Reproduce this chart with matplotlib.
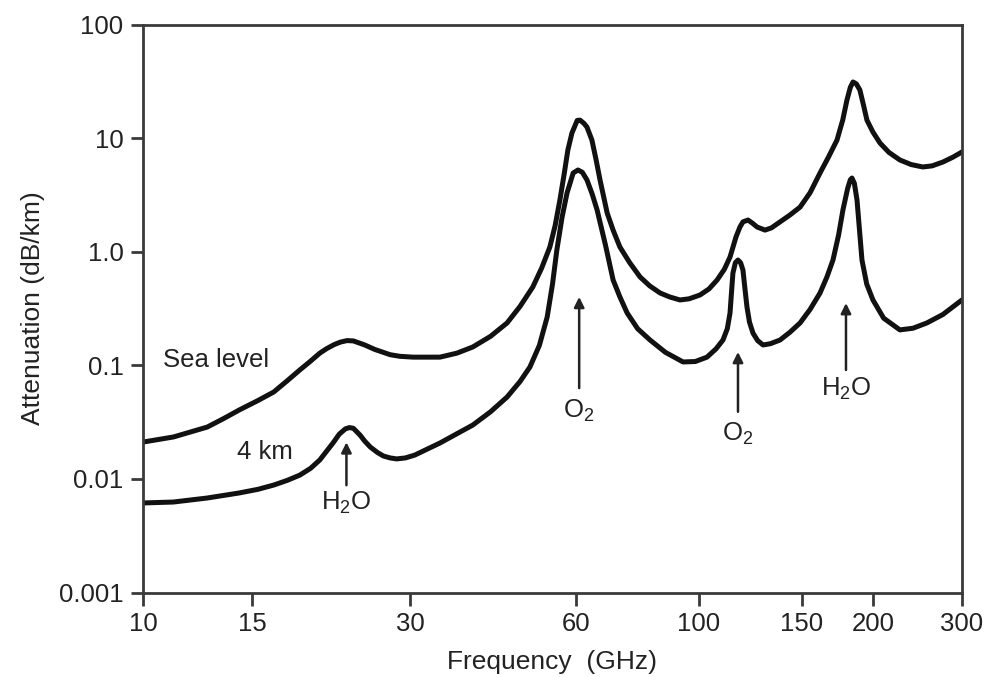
import numpy as np
import matplotlib
matplotlib.use('Agg')
import matplotlib.pyplot as plt
from matplotlib.ticker import FixedLocator, FixedFormatter, NullLocator

plt.rcParams.update({
    'font.family': ['Liberation Sans', 'DejaVu Sans'],
    'mathtext.fontset': 'custom',
    'mathtext.rm': 'Liberation Sans',
    'mathtext.it': 'Liberation Sans',
    'font.size': 18.5,
})

# ── Data ───────────────────────────────────────────────────────────────────
sea_f = [10.0, 11.2, 12.7, 13.5, 14.3, 15.4, 16.5, 17.5, 18.5, 19.4, 20.2, 20.8,
         21.5, 22.1, 22.75, 23.4, 24.6, 25.7, 27.5, 28.7, 30.4, 34.0, 36.5,
         39.0, 42.0, 45.0, 47.5, 50.1, 52.0, 53.8, 55.0, 56.1, 57.1, 58.0, 59.0,
         60.3, 61.0, 62.0, 62.8, 64.1, 65.2, 66.3, 68.3, 70.0, 72.0, 75.0, 78.3,
         81.5, 85.1, 88.5, 92.4, 96.0, 100.4, 104.0, 107.4, 110.5, 113.0, 115.7,
         117.5, 118.9, 121.3, 123.5, 125.7, 129.7, 133.0, 137.6, 143.0, 148.9,
         155.0, 161.4, 167.0, 172.9, 177.0, 180.0, 182.5, 184.5, 187.0, 189.7,
         192.5, 195.2, 200.0, 206.5, 215.0, 226.1, 238.0, 251.1, 262.0, 275.1,
         288.0, 300.0]
sea_att = [0.0211, 0.0234, 0.0286, 0.034, 0.0404, 0.049, 0.0582, 0.073, 0.091,
           0.109, 0.128, 0.140, 0.152, 0.160, 0.165, 0.164, 0.151, 0.138, 0.124,
           0.120, 0.118, 0.118, 0.128, 0.145, 0.18, 0.236, 0.33, 0.489, 0.72,
           1.10, 1.7, 2.85, 4.8, 7.86, 11.1, 14.3, 14.4, 13.5, 12.5, 9.62, 6.5,
           4.28, 2.19, 1.55, 1.10, 0.80, 0.599, 0.50, 0.433, 0.40, 0.376, 0.385,
           0.416, 0.47, 0.564, 0.70, 0.898, 1.35, 1.65, 1.83, 1.90, 1.78, 1.65,
           1.55, 1.62, 1.83, 2.1, 2.47, 3.3, 4.93, 6.8, 9.62, 14.5, 21.6, 28.0,
           31.2, 30.0, 26.5, 19.5, 14.4, 11.3, 9.06, 7.5, 6.42, 5.85, 5.57, 5.7,
           6.16, 6.8, 7.55]

km4_f = [10.0, 11.2, 12.7, 14.3, 15.4, 16.5, 17.5, 18.5, 19.4, 20.2, 20.8, 21.4,
         22.0, 22.6, 23.0, 23.4, 24.1, 24.6, 25.2, 26.0, 26.7, 27.5, 28.3, 29.4,
         30.6, 34.0, 36.5, 39.0, 42.0, 45.0, 47.5, 49.5, 51.5, 53.2, 54.4, 55.4,
         56.6, 57.8, 59.3, 60.5, 61.6, 62.8, 64.2, 65.5, 67.8, 70.0, 72.0, 74.2,
         77.5, 81.6, 87.0, 93.6, 98.5, 103.2, 107.0, 109.9, 111.8, 113.0, 113.7,
         114.3, 115.4, 116.6, 117.8, 118.9, 119.8, 120.8, 122.0, 123.7, 126.0,
         128.7, 132.5, 137.6, 143.0, 148.9, 155.0, 161.4, 166.0, 170.1, 174.0,
         177.1, 180.5, 182.5, 183.7, 185.5, 187.5, 189.5, 191.3, 195.0, 200.0,
         210.0, 226.1, 240.0, 255.7, 275.0, 300.0]
km4_att = [0.00614, 0.00626, 0.00679, 0.00752, 0.0081, 0.00883, 0.0097, 0.0108,
           0.0124, 0.0147, 0.0175, 0.0207, 0.0248, 0.0276, 0.0283, 0.0279,
           0.0243, 0.0215, 0.0191, 0.0171, 0.0159, 0.0153, 0.0150, 0.0153,
           0.0162, 0.0207, 0.025, 0.0298, 0.039, 0.0526, 0.072, 0.0966, 0.15,
           0.266, 0.52, 1.04, 2.0, 3.29, 4.93, 5.24, 5.0, 4.28, 3.2, 2.33, 1.15,
           0.564, 0.40, 0.289, 0.21, 0.167, 0.13, 0.107, 0.108, 0.118, 0.14,
           0.167, 0.21, 0.289, 0.45, 0.649, 0.80, 0.845, 0.80, 0.690, 0.48,
           0.326, 0.24, 0.192, 0.165, 0.151, 0.155, 0.167, 0.195, 0.236, 0.31,
           0.433, 0.60, 0.845, 1.4, 2.33, 3.6, 4.3, 4.45, 4.0, 2.85, 1.5, 0.845,
           0.52, 0.376, 0.26, 0.205, 0.212, 0.236, 0.28, 0.376]

# absorption lines: label, frequency, arrow tail, arrow head, label height
line_names = ['H$_2$O', 'O$_2$', 'O$_2$', 'H$_2$O']
line_f = [22.7, 60.8, 116.6, 179.3]
arrow_tail = [0.0088, 0.063, 0.039, 0.091]
arrow_head = [0.021, 0.40, 0.131, 0.353]
label_att = [0.0061, 0.040, 0.025, 0.062]

x_ticks = [10, 15, 30, 60, 100, 150, 200, 300]
y_ticks = [0.001, 0.01, 0.1, 1.0, 10, 100]
y_ticklabels = ['0.001', '0.01', '0.1', '1.0', '10', '100']

# The printed frequency axis is hand drawn and not quite logarithmic:
# where each labelled tick sits along the axis (fraction of its width).
AXIS_FRAC = [0.0, 0.1331, 0.326, 0.5287, 0.6789, 0.8046, 0.8913, 1.0]

_lt = np.log10(x_ticks)
_LOG = np.concatenate([[_lt[0] - 10], _lt, [_lt[-1] + 10]])
_FR = np.concatenate([[-10 / (_lt[-1] - _lt[0])], AXIS_FRAC,
                      [1 + 10 / (_lt[-1] - _lt[0])]])


def _fwd(x):
    x = np.asarray(x, dtype=float)
    return np.interp(np.log10(np.clip(x, 1e-12, None)), _LOG, _FR)


def _inv(u):
    return 10 ** np.interp(np.asarray(u, dtype=float), _FR, _LOG)


INK = '#111111'
TXT = '#222222'
AX_COL = '#3a3a3a'

fig = plt.figure(figsize=(9.91, 6.77), dpi=100)
ax = fig.add_axes([0.1443, 0.1248, 0.8264, 0.8390])

for f, a in ((sea_f, sea_att), (km4_f, km4_att)):
    ax.plot(f, a, color=INK, lw=3.6, solid_joinstyle='round',
            solid_capstyle='round')

ax.set_xscale('function', functions=(_fwd, _inv))
ax.set_yscale('log')
ax.set_xlim(10, 300)
ax.set_ylim(0.001, 100)

ax.xaxis.set_major_locator(FixedLocator(x_ticks))
ax.xaxis.set_major_formatter(FixedFormatter([str(t) for t in x_ticks]))
ax.xaxis.set_minor_locator(NullLocator())
ax.yaxis.set_major_locator(FixedLocator(y_ticks))
ax.yaxis.set_major_formatter(FixedFormatter(y_ticklabels))
ax.yaxis.set_minor_locator(NullLocator())

for sp in ax.spines.values():
    sp.set_linewidth(2.0)
    sp.set_color(AX_COL)
ax.tick_params(axis='both', direction='out', length=9, width=2.0,
               color=AX_COL, labelsize=18.5, labelcolor=TXT, pad=5)

ax.set_xlabel('Frequency  (GHz)', fontsize=19, color=TXT, labelpad=10)
ax.set_ylabel('Attenuation (dB/km)', fontsize=19, color=TXT, labelpad=10)

# curve labels
ax.text(10.77, 0.111, 'Sea level', fontsize=18.5, color=TXT,
        ha='left', va='center')
ax.text(14.19, 0.0173, '4 km', fontsize=18.5, color=TXT,
        ha='left', va='center')

# absorption-line arrows
for name, f, t0, t1, ly in zip(line_names, line_f, arrow_tail, arrow_head,
                               label_att):
    ax.annotate('', xy=(f, t1), xytext=(f, t0),
                arrowprops=dict(arrowstyle='-|>', color=TXT, lw=1.8,
                                mutation_scale=15, shrinkA=0, shrinkB=0))
    ax.text(f, ly, name, fontsize=18.5, color=TXT, ha='center',
            va='center')

fig.savefig('out.png', dpi=100)
